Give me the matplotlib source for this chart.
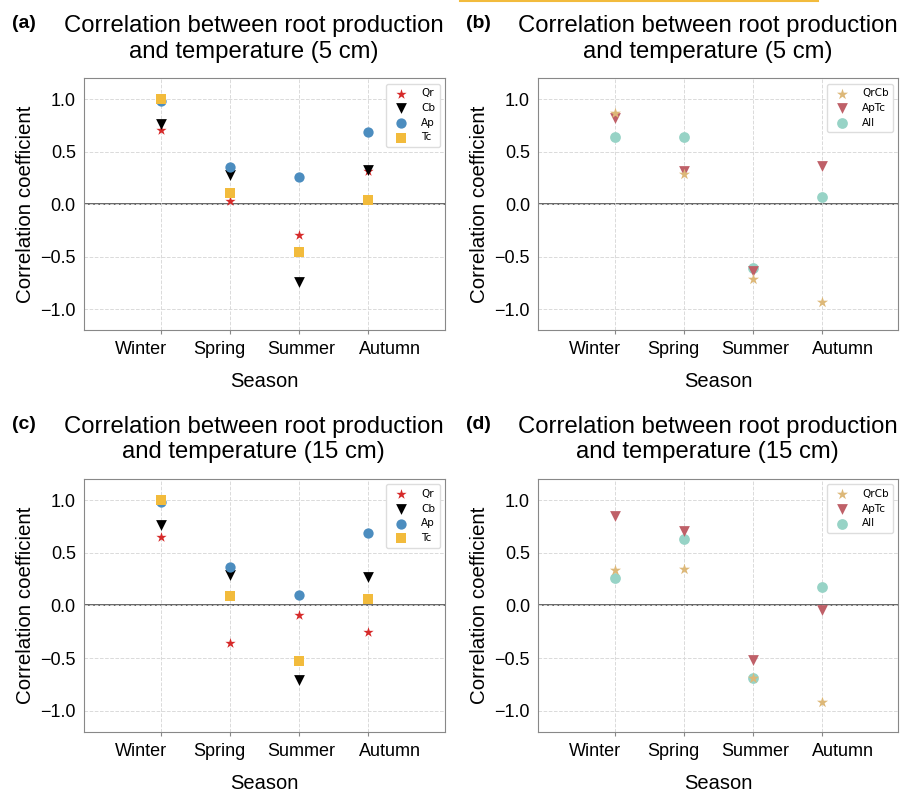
import matplotlib
matplotlib.use("Agg")
import matplotlib.pyplot as plt
from matplotlib.lines import Line2D

plt.rcParams['font.family'] = ['Liberation Sans', 'DejaVu Sans']

seasons = ["Winter", "Spring", "Summer", "Autumn"]

# 5 cm, single species
qr_5 = [0.71, 0.03, -0.29, 0.32]
cb_5 = [0.77, 0.28, -0.74, 0.33]
ap_5 = [0.98, 0.36, 0.26, 0.69]
tc_5 = [1.00, 0.11, -0.45, 0.04]
# 5 cm, mixtures
qrcb_5 = [0.87, 0.29, -0.71, -0.93]
aptc_5 = [0.82, 0.32, -0.64, 0.37]
all_5 = [0.64, 0.64, -0.61, 0.07]
# 15 cm, single species
qr_15 = [0.65, -0.36, -0.09, -0.25]
cb_15 = [0.76, 0.29, -0.71, 0.27]
ap_15 = [0.98, 0.37, 0.10, 0.69]
tc_15 = [1.00, 0.09, -0.53, 0.06]
# 15 cm, mixtures
qrcb_15 = [0.34, 0.35, -0.69, -0.92]
aptc_15 = [0.85, 0.71, -0.52, -0.04]
all_15 = [0.26, 0.63, -0.69, 0.18]

# where the season names sit (they are not centred on the ticks)
label_pos = [-0.29, 0.85, 2.03, 3.31]

single_style = [("Qr", "*", "#d62a2a", 60), ("Cb", "v", "black", 60),
                ("Ap", "o", "#4c8dbf", 55), ("Tc", "s", "#f2bb3c", 50)]
mix_style = [("QrCb", "*", "#ddb878", 70), ("ApTc", "v", "#bf6068", 60),
             ("All", "o", "#97d3c6", 60)]


def setup_axes(ax, letter, depth):
    ax.set_xlim(-1.11, 4.11)
    ax.set_ylim(-1.2, 1.2)
    ax.set_xticks(range(4))
    ax.set_xticklabels([])
    ax.set_xticks(label_pos, minor=True)
    ax.set_xticklabels(seasons, minor=True, fontsize=13)
    ax.tick_params(axis="x", which="minor", length=0, pad=8)
    ax.tick_params(axis="x", which="major", length=3, color="#888888")
    ax.set_yticks([-1.0, -0.5, 0.0, 0.5, 1.0])
    ax.tick_params(axis="y", labelsize=13, length=0, pad=6)
    ax.grid(True, which="major", linestyle="--", color="#dadada", linewidth=0.7)
    ax.axhline(0, color="#666666", linewidth=1.4, zorder=1)
    for s in ax.spines.values():
        s.set_color("#888888")
    ax.set_xlabel("Season", fontsize=14.5, labelpad=10)
    ax.set_ylabel("Correlation coefficient", fontsize=14.8)
    ax.set_title("Correlation between root production\nand temperature (%s)" % depth,
                 fontsize=17.2, x=0.47, pad=15, linespacing=1.22)
    ax.text(-0.2, 1.2, "(%s)" % letter, transform=ax.transAxes, fontsize=14,
            fontweight="bold", va="baseline", ha="left")


def add_legend(ax):
    ax.legend(loc="upper right", prop={"family": "DejaVu Sans", "size": 7.5},
              framealpha=1, edgecolor="#dddddd", borderpad=0.45,
              handletextpad=0.9, labelspacing=0.45, borderaxespad=0.5)


fig = plt.figure(figsize=(9.14, 7.92), dpi=100)
axes = {
    "a": fig.add_axes([0.092, 0.583, 0.395, 0.318]),
    "b": fig.add_axes([0.589, 0.583, 0.394, 0.318]),
    "c": fig.add_axes([0.092, 0.076, 0.395, 0.319]),
    "d": fig.add_axes([0.589, 0.076, 0.394, 0.319]),
}

x = range(4)
for letter, depth, series in [("a", "5 cm", [qr_5, cb_5, ap_5, tc_5]),
                              ("c", "15 cm", [qr_15, cb_15, ap_15, tc_15])]:
    ax = axes[letter]
    setup_axes(ax, letter, depth)
    for i, (vals, (name, mk, col, sz)) in enumerate(zip(series, single_style)):
        ax.scatter(x, vals, marker=mk, color=col, s=sz, label=name, zorder=3 + i,
                   linewidths=0)
    add_legend(ax)

for letter, depth, series in [("b", "5 cm", [qrcb_5, aptc_5, all_5]),
                              ("d", "15 cm", [qrcb_15, aptc_15, all_15])]:
    ax = axes[letter]
    setup_axes(ax, letter, depth)
    for i, (vals, (name, mk, col, sz)) in enumerate(zip(series, mix_style)):
        ax.scatter(x, vals, marker=mk, color=col, s=sz, label=name, zorder=6 - i,
                   linewidths=0)
    add_legend(ax)

# thin gold line along the top edge
fig.add_artist(Line2D([460 / 914, 818 / 914], [0.999, 0.999], color="#f2bb3c",
                      linewidth=1.5, transform=fig.transFigure))

fig.savefig("out.png", dpi=100, facecolor="white")
